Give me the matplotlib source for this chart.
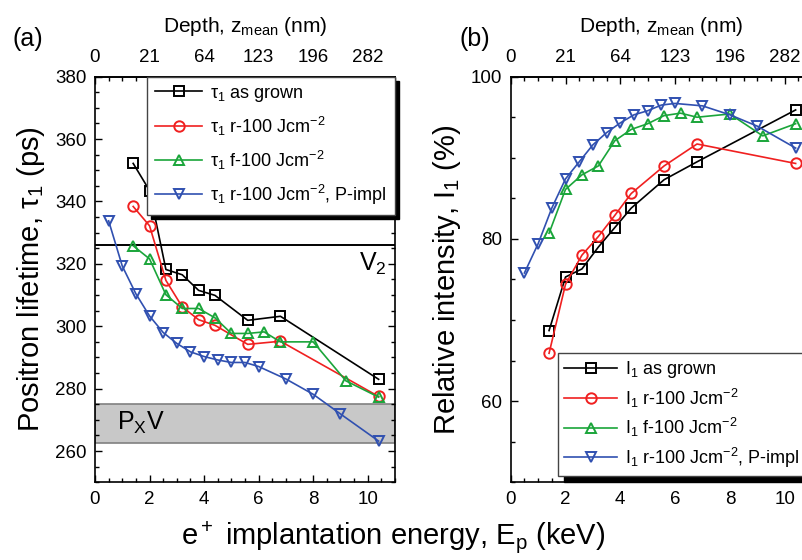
"""Positron lifetime and intensity vs implantation energy (two panels)."""

import matplotlib

matplotlib.use("Agg")
import matplotlib.pyplot as plt
from matplotlib.ticker import MultipleLocator

plt.rcParams["font.family"] = ["Liberation Sans", "DejaVu Sans"]
plt.rcParams["mathtext.fontset"] = "custom"
plt.rcParams["mathtext.rm"] = "Liberation Sans"
plt.rcParams["mathtext.it"] = "Liberation Sans:italic"
plt.rcParams["mathtext.default"] = "regular"

# --- data ---------------------------------------------------------------
depth_ticks = [0, 2, 4, 6, 8, 10]
depth_labels = ["0", "21", "64", "123", "196", "282"]

e_grown = [1.4, 2.0, 2.6, 3.2, 3.8, 4.4, 5.6, 6.8, 10.4]
e_r100 = [1.4, 2.0, 2.6, 3.2, 3.8, 4.4, 5.6, 6.8, 10.4]
e_f100 = [1.4, 2.0, 2.6, 3.2, 3.8, 4.4, 5.0, 5.6, 6.2, 6.8, 8.0, 9.2, 10.4]
e_pimpl = [0.5, 1.0, 1.5, 2.0, 2.5, 3.0, 3.5, 4.0, 4.5, 5.0, 5.5, 6.0, 7.0, 8.0, 9.0, 10.4]

tau_grown = [352.2, 343.5, 318.2, 316.5, 311.5, 309.9, 301.9, 303.2, 283.0]
tau_r100 = [338.4, 332.2, 314.7, 306.2, 302.1, 300.3, 294.2, 295.2, 277.5]
tau_f100 = [325.8, 321.6, 310.1, 305.7, 305.7, 302.7, 297.7, 297.7, 298.2, 295.0,
            295.0, 282.5, 277.3]
tau_pimpl = [333.8, 319.3, 310.4, 303.3, 298.0, 294.5, 291.8, 290.3, 289.2, 288.4,
             288.4, 287.1, 283.1, 278.2, 271.9, 263.2]

int_grown = [68.7, 75.3, 76.3, 79.0, 81.4, 83.8, 87.3, 89.5, 95.9]
int_r100 = [65.9, 74.4, 78.0, 80.3, 82.9, 85.6, 89.0, 91.7, 89.3]
int_f100 = [80.7, 86.1, 87.9, 89.0, 92.1, 93.5, 94.2, 95.2, 95.5, 95.0, 95.4, 92.7, 94.2]
int_pimpl = [75.8, 79.4, 83.8, 87.4, 89.5, 91.6, 93.1, 94.3, 95.3, 95.8, 96.5, 96.7,
             96.4, 95.3, 93.9, 91.2]

tau_v2 = 326
tau_pxv = (262.5, 275)

series_names = ["as grown", "r-100 Jcm$^{-2}$", "f-100 Jcm$^{-2}$",
                "r-100 Jcm$^{-2}$, P-impl"]
colors = ["black", "#f02020", "#1aa53a", "#3050b0"]
markers = ["s", "o", "^", "v"]


def style_axes(ax):
    ax.set_xlim(0, 11)
    ax.xaxis.set_major_locator(MultipleLocator(2))
    ax.xaxis.set_minor_locator(MultipleLocator(0.5))
    ax.yaxis.set_major_locator(MultipleLocator(20))
    ax.yaxis.set_minor_locator(MultipleLocator(5))
    ax.tick_params(which="both", direction="in", right=True, labelsize=13.5, width=1)
    ax.tick_params(which="major", length=5, pad=6)
    ax.tick_params(which="minor", length=3)
    for sp in ax.spines.values():
        sp.set_linewidth(1.2)
    top = ax.secondary_xaxis("top")
    top.set_xticks(depth_ticks, depth_labels)
    top.xaxis.set_minor_locator(MultipleLocator(0.5))
    top.tick_params(which="both", direction="in", labelsize=13.5, width=1)
    top.tick_params(which="major", length=5, pad=8)
    top.tick_params(which="minor", length=3)
    top.spines["top"].set_linewidth(1.2)
    top.set_xlabel("Depth, z$_{mean}$ (nm)", fontsize=15, labelpad=12)


def plot_series(ax, xs, ys, prefix):
    for x, y, name, c, m in zip(xs, ys, series_names, colors, markers):
        ax.plot(x, y, color=c, marker=m, markersize=7.5, markerfacecolor="none",
                markeredgewidth=1.4, linewidth=1.2, label=f"{prefix} {name}")


fig = plt.figure(figsize=(8.03, 5.60), dpi=100)
ax1 = fig.add_axes([0.1183, 0.1388, 0.3736, 0.7243])
ax2 = fig.add_axes([0.636, 0.1388, 0.3753, 0.7243])

# (a) lifetime
ax1.axhspan(tau_pxv[0], tau_pxv[1], facecolor="#c8c8c8", edgecolor="#808080",
            linewidth=1.2, zorder=0)
ax1.axhline(tau_v2, color="black", linewidth=1.4, zorder=1)
plot_series(ax1, [e_grown, e_r100, e_f100, e_pimpl],
            [tau_grown, tau_r100, tau_f100, tau_pimpl], "τ$_1$")
ax1.set_ylim(250, 380)
style_axes(ax1)
ax1.set_ylabel("Positron lifetime, τ$_1$ (ps)", fontsize=21, labelpad=6)
ax1.text(10.7, 320, "V$_2$", fontsize=18, ha="right", va="center")
ax1.text(0.8, 269, "P$_X$V", fontsize=18, ha="left", va="center")
leg1 = ax1.legend(loc="upper right", bbox_to_anchor=(1, 1), borderaxespad=0,
                  fontsize=13, frameon=True, fancybox=False, framealpha=1,
                  edgecolor="#444444", handlelength=2.6, handletextpad=0.45,
                  labelspacing=0.6, borderpad=0.45,
                  shadow={"ox": 3.0, "oy": -3.3, "color": "black", "alpha": 1})
leg1.get_frame().set_linewidth(1.0)

# (b) intensity
plot_series(ax2, [e_grown, e_r100, e_f100, e_pimpl],
            [int_grown, int_r100, int_f100, int_pimpl], "I$_1$")
ax2.set_ylim(50, 100)
style_axes(ax2)
ax2.set_ylabel("Relative intensity, I$_1$ (%)", fontsize=21, labelpad=6)
leg2 = ax2.legend(loc="lower right", bbox_to_anchor=(1, 0), borderaxespad=0.35,
                  fontsize=13, frameon=True, fancybox=False, framealpha=1,
                  edgecolor="#444444", handlelength=2.9, handletextpad=0.45,
                  labelspacing=0.35, borderpad=0.35,
                  shadow={"ox": 4.5, "oy": -4.5, "color": "black", "alpha": 1})
leg2.get_frame().set_linewidth(1.0)

fig.text(0.035, 0.93, "(a)", fontsize=18, ha="center", va="center")
fig.text(0.591, 0.93, "(b)", fontsize=18, ha="center", va="center")
fig.text(0.49, 0.04, "e$^+$ implantation energy, E$_p$ (keV)", fontsize=21,
         ha="center", va="center")

fig.savefig("out.png", dpi=100)
